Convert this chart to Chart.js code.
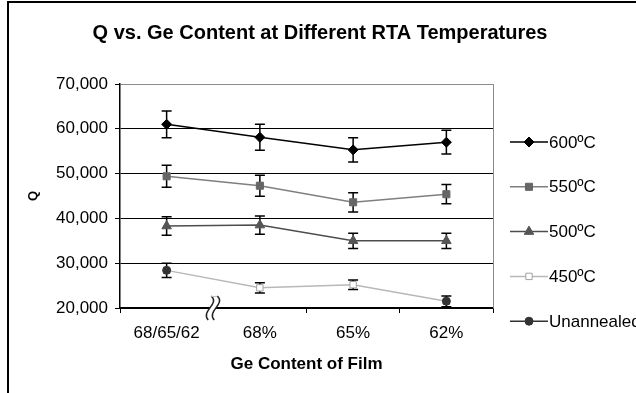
<!DOCTYPE html>
<html>
<head>
<meta charset="utf-8">
<script src="https://cdn.jsdelivr.net/npm/chart.js@4/dist/chart.umd.min.js"></script>
<style>
  html, body { margin: 0; padding: 0; background: #fff; }
  #wrap { position: relative; width: 636px; height: 393px; overflow: hidden; }
  #frame { position: absolute; left: 7px; top: 1px; width: 700px; height: 500px; border-left: 2px solid #000; border-top: 2px solid #000; pointer-events: none; }
  canvas { position: absolute; left: 0; top: 0; }
</style>
</head>
<body>
<div id="wrap">
  <canvas id="c" width="636" height="393"></canvas>
  <div id="frame"></div>
</div>
<script>
// ---- data ----
const chartTitle = 'Q vs. Ge Content at Different RTA Temperatures';
const categories = ['68/65/62', '68%', '65%', '62%'];
const seriesNames = ['600\u00baC', '550\u00baC', '500\u00baC', '450\u00baC', 'Unannealed'];
const q600 = [61000, 58100, 55300, 57000];
const err600 = [3000, 2900, 2700, 2650];
const q550 = [49400, 47300, 43600, 45400];
const err550 = [2450, 2350, 2150, 2150];
const q500 = [38300, 38500, 35000, 35000];
const err500 = [2050, 2050, 1700, 1700];
const q450 = [28400, 24500, 25200, 21500];
const err450 = [null, 1150, 1050, null];
const qUnannealed = [28400, null, null, 21500];
const errUnannealed = [1600, null, null, 1200];
const yTicks = [20000, 30000, 40000, 50000, 60000, 70000];

const FONT = "'Liberation Sans', Arial, sans-serif";

const titlePlugin = {
  id: 'centerTitle',
  afterDraw(chart) {
    const ctx = chart.ctx;
    ctx.save();
    ctx.fillStyle = '#000';
    ctx.font = 'bold 20px ' + FONT;
    ctx.textAlign = 'center';
    ctx.textBaseline = 'middle';
    ctx.fillText(chartTitle, chart.width / 2 + 2, 33);
    ctx.restore();
  }
};

const errorBarPlugin = {
  id: 'errorBars',
  beforeDatasetsDraw(chart) {
    const ctx = chart.ctx;
    const ys = chart.scales.y;
    ctx.save();
    ctx.strokeStyle = '#000';
    ctx.lineWidth = 1.5;
    chart.data.datasets.forEach((ds, di) => {
      const meta = chart.getDatasetMeta(di);
      ds.errors.forEach((e, i) => {
        const v = ds.data[i];
        if (e == null || v == null) return;
        const x = meta.data[i].x;
        const y1 = ys.getPixelForValue(v + e);
        const y2 = ys.getPixelForValue(v - e);
        ctx.beginPath();
        ctx.moveTo(x, y1); ctx.lineTo(x, y2);
        ctx.moveTo(x - 5, y1); ctx.lineTo(x + 5, y1);
        ctx.moveTo(x - 5, y2); ctx.lineTo(x + 5, y2);
        ctx.stroke();
      });
    });
    ctx.restore();
  }
};

const framePlugin = {
  id: 'plotFrame',
  beforeDatasetsDraw(chart) {
    const {ctx, chartArea: a} = chart;
    ctx.save();
    ctx.strokeStyle = '#8c8c8c';
    ctx.lineWidth = 1;
    ctx.beginPath();
    ctx.moveTo(Math.round(a.right) + 0.5, a.top);
    ctx.lineTo(Math.round(a.right) + 0.5, a.bottom);
    ctx.stroke();
    ctx.restore();
  }
};

const breakPlugin = {
  id: 'axisBreak',
  afterDraw(chart) {
    const {ctx, chartArea: a} = chart;
    const xs = chart.scales.x;
    const cx = (xs.getPixelForValue(0) + xs.getPixelForValue(1)) / 2;
    const y = a.bottom;
    const top = y - 12, bot = y + 12;
    const g = 6;
    const curvePts = (dx) => [
      [cx + dx + 1, top],
      [cx + dx + 10, top + 8], [cx + dx - 10, bot - 9], [cx + dx - 2, bot]
    ];
    ctx.save();
    const L = curvePts(-g / 2), R = curvePts(g / 2);
    ctx.fillStyle = '#fff';
    ctx.beginPath();
    ctx.moveTo(L[0][0], L[0][1]);
    ctx.bezierCurveTo(L[1][0], L[1][1], L[2][0], L[2][1], L[3][0], L[3][1]);
    ctx.lineTo(R[3][0], R[3][1]);
    ctx.bezierCurveTo(R[2][0], R[2][1], R[1][0], R[1][1], R[0][0], R[0][1]);
    ctx.closePath();
    ctx.fill();
    ctx.strokeStyle = '#222';
    ctx.lineWidth = 1.5;
    [L, R].forEach(P => {
      ctx.beginPath();
      ctx.moveTo(P[0][0], P[0][1]);
      ctx.bezierCurveTo(P[1][0], P[1][1], P[2][0], P[2][1], P[3][0], P[3][1]);
      ctx.stroke();
    });
    ctx.strokeStyle = '#c0c0c0';
    ctx.lineWidth = 1;
    ctx.beginPath();
    ctx.moveTo(L[0][0], top + 0.5); ctx.lineTo(R[0][0], top + 0.5);
    ctx.stroke();
    ctx.restore();
  }
};

const legendPlugin = {
  id: 'sideLegend',
  afterDraw(chart) {
    const {ctx, chartArea: a} = chart;
    ctx.save();
    chart.data.datasets.forEach((ds, i) => {
      const y = a.top + 58 + i * 44.8;
      const x0 = a.right + 17, x1 = a.right + 55;
      ctx.strokeStyle = ds.borderColor;
      ctx.lineWidth = ds.borderWidth;
      ctx.beginPath();
      ctx.moveTo(x0, y); ctx.lineTo(x1, y);
      ctx.stroke();
      ctx.fillStyle = ds.pointBackgroundColor;
      ctx.strokeStyle = ds.pointBorderColor;
      ctx.lineWidth = ds.pointBorderWidth;
      Chart.helpers.drawPoint(ctx, {
        pointStyle: ds.pointStyle, radius: ds.pointRadius, rotation: 0, borderWidth: ds.pointBorderWidth
      }, (x0 + x1) / 2, y);
      ctx.fillStyle = '#000';
      ctx.font = '17px ' + FONT;
      ctx.textBaseline = 'middle';
      ctx.textAlign = 'left';
      ctx.fillText(ds.label, x1 + 1, y + 1);
    });
    ctx.restore();
  }
};

function mk(label, data, errors, line, ptFill, ptBorder, style, r, order) {
  return {
    label, data, errors,
    borderColor: line, borderWidth: 1.5,
    pointStyle: style, pointRadius: r, pointHoverRadius: r,
    pointBackgroundColor: ptFill, pointBorderColor: ptBorder, pointBorderWidth: 1,
    tension: 0, spanGaps: false, order
  };
}

new Chart(document.getElementById('c'), {
  type: 'line',
  data: {
    labels: categories,
    datasets: [
      mk(seriesNames[0], q600, err600, '#000000', '#000000', '#000000', 'rectRot', 5, 4),
      mk(seriesNames[1], q550, err550, '#7f7f7f', '#666666', '#666666', 'rect', 5, 3),
      mk(seriesNames[2], q500, err500, '#4d4d4d', '#555555', '#555555', 'triangle', 5.5, 2),
      mk(seriesNames[3], q450, err450, '#b8b8b8', '#ffffff', '#a0a0a0', 'rect', 4.5, 1),
      mk(seriesNames[4], qUnannealed, errUnannealed, '#333333', '#333333', '#333333', 'circle', 4, 0)
    ]
  },
  options: {
    responsive: false,
    animation: false,
    events: [],
    layout: { padding: { left: 0, right: 143, top: 84, bottom: 0 } },
    plugins: {
      legend: { display: false },
      tooltip: { enabled: false },
      title: { display: false }
    },
    scales: {
      x: {
        offset: true,
        afterFit(s) { s.height = 85; },
        grid: { display: true, drawOnChartArea: false, offset: true, tickLength: 5, tickColor: '#000', tickWidth: 1 },
        border: { display: true, color: '#000', width: 1.5 },
        ticks: { color: '#000', font: { family: FONT, size: 17 }, padding: 10, maxRotation: 0 },
        title: { display: true, text: 'Ge Content of Film', color: '#000', font: { family: FONT, size: 17, weight: 'bold' }, padding: { top: 0, bottom: 18.5 } }
      },
      y: {
        min: yTicks[0], max: yTicks[yTicks.length - 1],
        afterFit(s) { s.width = 120; },
        afterBuildTicks(s) { s.ticks = yTicks.map(v => ({ value: v })); },
        grid: {
          color: (c) => (c.tick && c.tick.value === yTicks[yTicks.length - 1]) ? '#8c8c8c' : '#000',
          tickColor: '#000', tickLength: 5, lineWidth: 1
        },
        border: { display: true, color: '#000', width: 1.5 },
        ticks: {
          color: '#000', font: { family: FONT, size: 17 }, padding: 7,
          callback: (v) => v.toLocaleString('en-US')
        },
        title: { display: true, text: 'Q', color: '#000', font: { family: FONT, size: 13, weight: 'bold' }, padding: { top: 25.5, bottom: 0 } }
      }
    }
  },
  plugins: [framePlugin, errorBarPlugin, breakPlugin, legendPlugin, titlePlugin]
});
</script>
</body>
</html>
